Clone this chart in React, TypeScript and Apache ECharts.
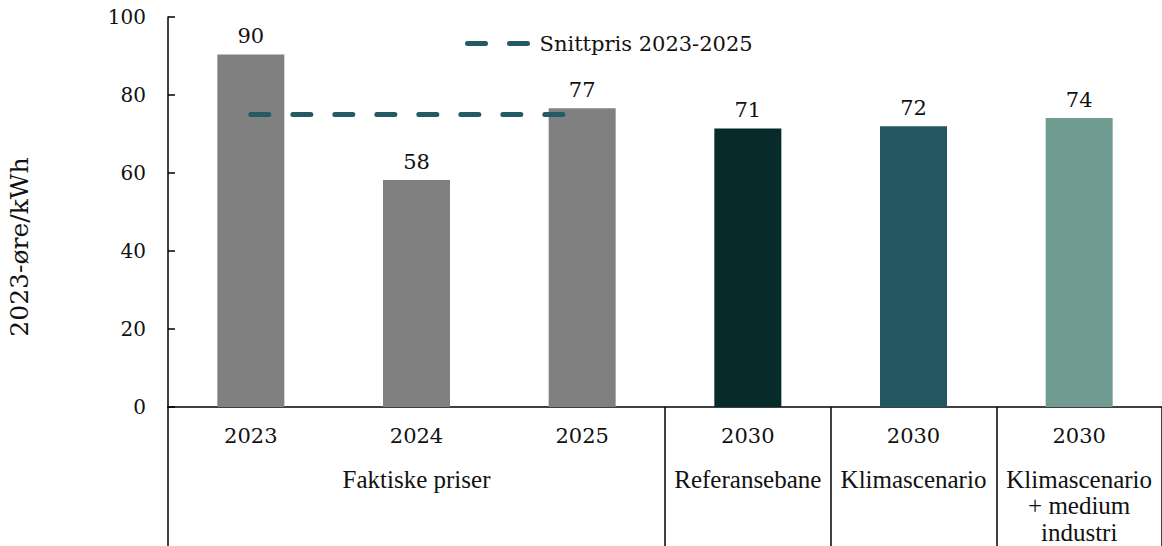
import React, { useEffect, useRef } from "react";
import * as echarts from "echarts";

const years = ["2023", "2024", "2025", "2030", "2030", "2030"];
const groups = ["", "Faktiske priser", "", "Referansebane", "Klimascenario", "Klimascenario\n+ medium\nindustri"];
const prices = [90.4, 58.2, 76.6, 71.4, 72.0, 74.1];
const barColors = ["#808080", "#808080", "#808080", "#072a2b", "#225761", "#6f9b90"];
const average: (number | string)[] = [75.0, 75.0, 75.0, "-", "-", "-"];
const lineName = "Snittpris 2023-2025";
const yTitle = "2023-øre/kWh";
const yTicks = { min: 0, max: 100, interval: 20 };
const dividerIndexes = [0, 3, 4, 5];

const NUM_FONT = "Georgia, 'DejaVu Serif', serif";
const TXT_FONT = "'Liberation Serif', 'Times New Roman', serif";

export default function App() {
  const ref = useRef<HTMLDivElement>(null);
  useEffect(() => {
    document.body.style.margin = "0";
    if (!ref.current) return;
    const chart = echarts.init(ref.current, undefined, { renderer: "svg" });
    chart.setOption({
      animation: false,
      grid: { left: 168, right: -2, top: 17, bottom: 139, containLabel: false },
      legend: {
        data: [lineName],
        left: 460,
        top: 28,
        itemWidth: 65,
        itemHeight: 14,
        textStyle: { fontFamily: NUM_FONT, fontSize: 21, color: "#111", padding: [0, 0, 0, 2] },
        lineStyle: { width: 5 },
        itemStyle: { opacity: 0 },
      },
      xAxis: [
        {
          type: "category",
          data: years,
          position: "bottom",
          axisLine: { show: true, lineStyle: { color: "#000", width: 1.5 } },
          axisTick: {
            show: true,
            length: 139,
            lineStyle: { color: "#000", width: 1.5 },
            interval: (i: number) => dividerIndexes.includes(i),
          },
          axisLabel: { fontFamily: NUM_FONT, fontSize: 21, color: "#111", margin: 18, interval: 0 },
        },
        {
          type: "category",
          data: groups,
          position: "bottom",
          axisLine: { show: false },
          axisTick: { show: false },
          axisLabel: {
            fontFamily: TXT_FONT,
            fontSize: 25,
            lineHeight: 26.5,
            color: "#111",
            margin: 59,
            interval: 0,
          },
        },
      ],
      yAxis: {
        type: "value",
        ...yTicks,
        axisLine: { show: true, lineStyle: { color: "#000", width: 1.5 } },
        axisTick: { show: true, inside: true, length: 7, lineStyle: { color: "#000", width: 1.5 } },
        splitLine: { show: false },
        axisLabel: { fontFamily: NUM_FONT, fontSize: 20, color: "#111", margin: 22 },
      },
      graphic: [
        {
          type: "text",
          x: 19,
          y: 247,
          rotation: Math.PI / 2,
          style: {
            text: yTitle,
            font: `25px ${NUM_FONT}`,
            fill: "#111",
            align: "center",
            verticalAlign: "middle",
          },
        },
      ],
      series: [
        {
          type: "bar",
          xAxisIndex: 0,
          data: prices.map((v, i) => ({ value: v, itemStyle: { color: barColors[i] } })),
          barWidth: 67,
          label: {
            show: true,
            position: "top",
            distance: 8,
            fontFamily: NUM_FONT,
            fontSize: 21,
            color: "#111",
            formatter: (p: any) => String(Math.round(p.value)),
          },
          z: 2,
        },
        {
          type: "line",
          name: lineName,
          xAxisIndex: 0,
          data: average,
          symbol: "none",
          lineStyle: { color: "#235a63", width: 5, type: [18, 24], cap: "round" },
          itemStyle: { color: "#235a63" },
          z: 3,
        },
      ],
    });
    return () => chart.dispose();
  }, []);
  return <div ref={ref} style={{ width: 1162, height: 546 }} />;
}
